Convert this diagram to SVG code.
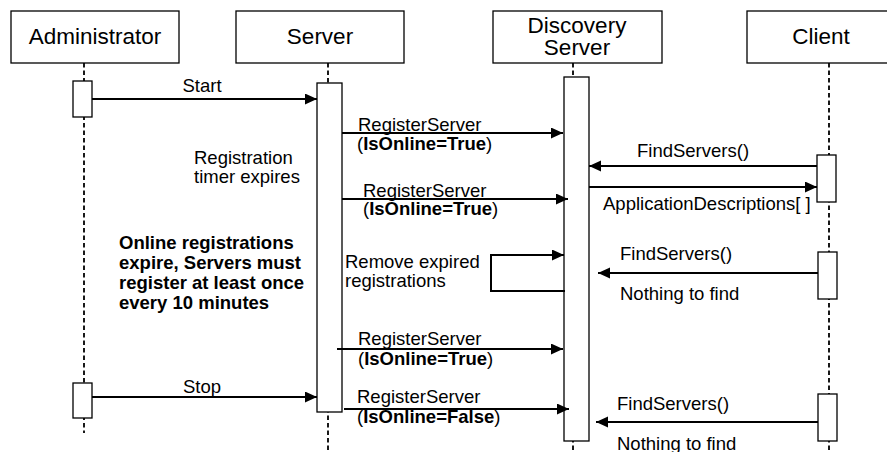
<svg xmlns="http://www.w3.org/2000/svg" width="887" height="452" viewBox="0 0 887 452">
<style>
.hdr{fill:#fff;stroke:#000;stroke-width:1.3}
.ht{font-family:"Liberation Sans",Arial,sans-serif;font-size:22.5px;fill:#000;text-anchor:middle}
.life{stroke:#000;stroke-width:1.8;stroke-dasharray:4.5,3;fill:none}
.act{fill:#fff;stroke:#000;stroke-width:1.3}
.msg{stroke:#000;stroke-width:2;fill:none;marker-end:url(#ah)}
.t{font-family:"Liberation Sans",Arial,sans-serif;font-size:18.5px;fill:#000}
.b{font-weight:bold}
</style>
<defs>
<marker id="ah" markerUnits="userSpaceOnUse" markerWidth="13" markerHeight="12" refX="12" refY="5.5" orient="auto">
<path d="M0,0 L12,5.5 L0,11 z" fill="#000"/>
</marker>
</defs>
<rect width="887" height="452" fill="#fff"/>
<g id="lifelines">
<line class="life" x1="84" y1="63" x2="84" y2="433"/>
<line class="life" x1="328" y1="63" x2="328" y2="452"/>
<line class="life" x1="573" y1="63" x2="573" y2="452"/>
<line class="life" x1="829" y1="63" x2="829" y2="452"/>
</g>
<g id="administrator">
<rect class="hdr" x="11" y="11" width="168" height="52"/>
<text class="ht" x="95" y="44">Administrator</text>
<rect class="act" x="73" y="81" width="19" height="36"/>
<rect class="act" x="73" y="383" width="19" height="35"/>
</g>
<g id="server">
<rect class="hdr" x="236" y="11" width="168" height="52"/>
<text class="ht" x="320" y="44">Server</text>
<rect class="act" x="317" y="83" width="25" height="329"/>
</g>
<g id="discovery-server">
<rect class="hdr" x="493" y="11" width="169" height="52"/>
<text class="ht" x="577" y="33">Discovery</text>
<text class="ht" x="577" y="55">Server</text>
<rect class="act" x="564" y="77" width="25" height="364"/>
</g>
<g id="client">
<rect class="hdr" x="747" y="11" width="150" height="52"/>
<text class="ht" x="821" y="44">Client</text>
<rect class="act" x="817" y="155" width="19" height="47"/>
<rect class="act" x="818" y="252" width="19" height="47"/>
<rect class="act" x="818" y="394" width="19" height="47"/>
</g>
<g id="connectors">
<line class="msg" x1="92" y1="99" x2="317" y2="99"/>
<line class="msg" x1="92" y1="397" x2="317" y2="397"/>
<line class="msg" x1="342" y1="133" x2="563" y2="133"/>
<line class="msg" x1="342" y1="199" x2="568" y2="199"/>
<line class="msg" x1="817" y1="166" x2="589" y2="166"/>
<line class="msg" x1="589" y1="187" x2="817" y2="187"/>
<path class="msg" d="M565,291 H491 V255 H564"/>
<line class="msg" x1="818" y1="273" x2="598" y2="273"/>
<line class="msg" x1="337" y1="349" x2="563" y2="349"/>
<line class="msg" x1="344" y1="409" x2="569" y2="409"/>
<line class="msg" x1="818" y1="422" x2="596" y2="422"/>
</g>
<g id="labels">
<text class="t" x="202" y="92" text-anchor="middle">Start</text>
<text class="t" x="202" y="393" text-anchor="middle">Stop</text>
<text class="t" x="358" y="131">RegisterServer</text>
<text class="t" x="357" y="150">(<tspan class="b">IsOnline=True</tspan>)</text>
<text class="t" x="363" y="197">RegisterServer</text>
<text class="t" x="363" y="215">(<tspan class="b">IsOnline=True</tspan>)</text>
<text class="t" x="194" y="164">Registration</text>
<text class="t" x="194" y="183">timer expires</text>
<text class="t b" x="119" y="249">Online registrations</text>
<text class="t b" x="119" y="269">expire, Servers must</text>
<text class="t b" x="119" y="289">register at least once</text>
<text class="t b" x="119" y="309">every 10 minutes</text>
<text class="t" x="345" y="268">Remove expired</text>
<text class="t" x="345" y="287">registrations</text>
<text class="t" x="358" y="345">RegisterServer</text>
<text class="t" x="358" y="365">(<tspan class="b">IsOnline=True</tspan>)</text>
<text class="t" x="357" y="403">RegisterServer</text>
<text class="t" x="357" y="423">(<tspan class="b">IsOnline=False</tspan>)</text>
<text class="t" x="637" y="157">FindServers()</text>
<text class="t" x="603" y="210">ApplicationDescriptions[ ]</text>
<text class="t" x="620" y="260">FindServers()</text>
<text class="t" x="620" y="300">Nothing to find</text>
<text class="t" x="617" y="410">FindServers()</text>
<text class="t" x="617" y="450">Nothing to find</text>
</g>
</svg>
